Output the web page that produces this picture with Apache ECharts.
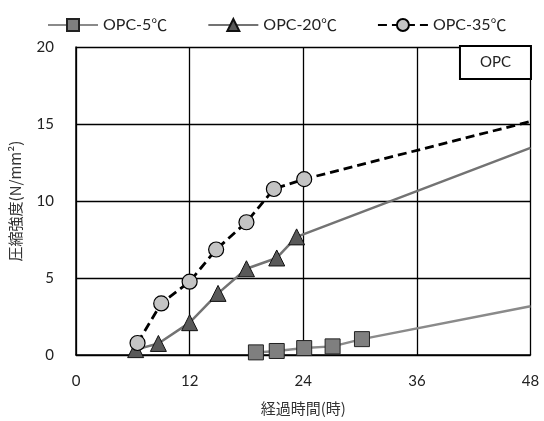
<!DOCTYPE html>
<html><head><meta charset="utf-8">
<script src="https://cdn.jsdelivr.net/npm/echarts@6/dist/echarts.min.js"></script>
<style>html,body{margin:0;padding:0;background:#fff}#c{width:544px;height:421px}</style>
</head><body><div id="c"></div>
<script>
var seriesNames = ['OPC-5℃', 'OPC-20℃', 'OPC-35℃'];
var opc5_x = [19, 21.2, 24.1, 27.1, 30.2, 48];
var opc5_y = [0.17, 0.26, 0.45, 0.56, 1.03, 3.17];
var opc20_x = [6.3, 8.7, 12, 15, 18, 21.2, 23.3, 48];
var opc20_y = [0.35, 0.75, 2.1, 4.0, 5.6, 6.3, 7.67, 13.45];
var opc35_x = [6.5, 9, 12, 14.8, 18, 20.9, 24.1, 48];
var opc35_y = [0.78, 3.35, 4.76, 6.85, 8.62, 10.78, 11.42, 15.17];
var xTicks = [0, 12, 24, 36, 48];
var yTicks = [0, 5, 10, 15, 20];

function pts(xs, ys) {
  return xs.map(function (x, i) {
    var p = { value: [x, ys[i]] };
    if (i === xs.length - 1) p.symbol = 'none';
    return p;
  });
}
var font = 'Lato, "Noto Sans", sans-serif';
var cjk = '"Noto Sans CJK JP", sans-serif';
var chart = echarts.init(document.getElementById('c'));
chart.setOption({
  animation: false,
  backgroundColor: '#fff',
  title: {
    text: 'OPC', right: 13, top: 46,
    borderColor: '#000', borderWidth: 2, padding: [9, 20, 9, 20],
    backgroundColor: '#fff',
    textStyle: { fontFamily: font, fontSize: 15, fontWeight: 'normal', color: '#222' }
  },
  legend: {
    top: 12, left: 42, itemGap: 40, itemWidth: 50, itemHeight: 15,
    formatter: function (n) { return '{a|' + n.replace('℃', '') + '}{c|℃}'; },
    textStyle: { fontFamily: font, fontSize: 16, color: '#222',
      rich: {
        a: { fontFamily: font, fontSize: 16, color: '#222' },
        c: { fontFamily: cjk, fontSize: 16, color: '#222' }
      } },
    data: seriesNames
  },
  grid: { left: 73.5, right: 13.5, top: 47, bottom: 64.7 },
  xAxis: {
    type: 'value', min: 0, max: 48, interval: 12,
    name: '経過時間(時)', nameLocation: 'middle', nameGap: 46,
    nameTextStyle: { fontFamily: cjk, fontSize: 15, color: '#333' },
    axisLine: { show: true, lineStyle: { color: '#000', width: 1.5 } },
    axisTick: { show: false },
    axisLabel: { margin: 19, fontFamily: font, fontSize: 15, color: '#222',
      formatter: function (v) { return xTicks.indexOf(v) >= 0 ? String(v) : ''; } },
    splitLine: { show: true, lineStyle: { color: '#000', width: 1.3 } }
  },
  yAxis: {
    type: 'value', min: 0, max: 20, interval: 5,
    name: '圧縮強度(N/mm²)', nameLocation: 'middle', nameGap: 53,
    nameTextStyle: { fontFamily: cjk, fontSize: 15, color: '#333' },
    axisLine: { show: true, lineStyle: { color: '#000', width: 1.5 } },
    axisTick: { show: false },
    axisLabel: { margin: 22, fontFamily: font, fontSize: 15, color: '#222',
      formatter: function (v) { return yTicks.indexOf(v) >= 0 ? String(v) : ''; } },
    splitLine: { show: true, lineStyle: { color: '#000', width: 1.3 } }
  },
  series: [
    {
      name: seriesNames[0], type: 'line', data: pts(opc5_x, opc5_y),
      symbol: 'rect', symbolSize: 15, showAllSymbol: true,
      lineStyle: { color: '#8a8a8a', width: 2.5 },
      itemStyle: { color: '#7f7f7f', borderColor: '#222', borderWidth: 1 },
      z: 3
    },
    {
      name: seriesNames[1], type: 'line', data: pts(opc20_x, opc20_y),
      symbol: 'triangle', symbolSize: 16, showAllSymbol: true,
      lineStyle: { color: '#737373', width: 2.5 },
      itemStyle: { color: '#595959', borderColor: '#111', borderWidth: 1 },
      z: 2
    },
    {
      name: seriesNames[2], type: 'line', data: pts(opc35_x, opc35_y),
      symbol: 'circle', symbolSize: 15, showAllSymbol: true,
      lineStyle: { color: '#000', width: 2.8, type: [9, 5] },
      itemStyle: { color: '#c4c4c4', borderColor: '#000', borderWidth: 1.2 },
      z: 4
    }
  ]
});
</script></body></html>
